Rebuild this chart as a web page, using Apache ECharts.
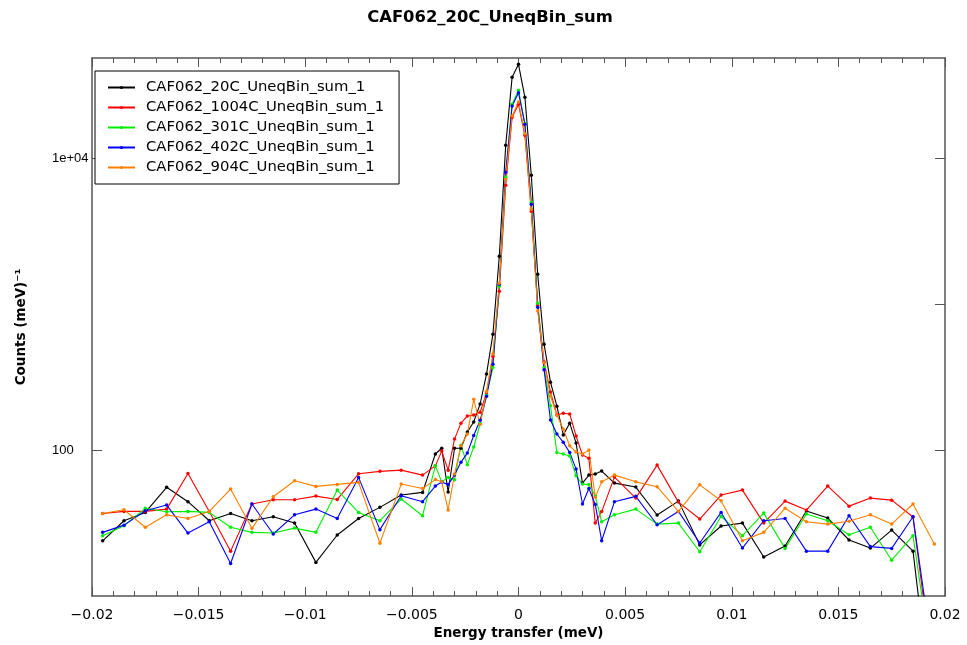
<!DOCTYPE html>
<html>
<head>
<meta charset="utf-8">
<script src="https://cdn.jsdelivr.net/npm/echarts@6/dist/echarts.min.js"></script>
<style>
html,body{margin:0;padding:0;background:#fff;}
#chart{width:967px;height:645px;}
</style>
</head>
<body>
<div id="chart"></div>
<script>
// Energy transfer (meV) bin centres
const xValues = [
  -0.0195,-0.0185,-0.0175,-0.0165,-0.0155,-0.0145,-0.0135,-0.0125,-0.0115,-0.0105,-0.0095,-0.0085,-0.0075,-0.0065,-0.0055,-0.0045,
  -0.0039,-0.0036,-0.0033,-0.0030,-0.0027,-0.0024,-0.0021,-0.0018,-0.0015,-0.0012,-0.0009,-0.0006,-0.0003,0,
  0.0003,0.0006,0.0009,0.0012,0.0015,0.0018,0.0021,0.0024,0.0027,0.0030,0.0033,0.0036,0.0039,
  0.0045,0.0055,0.0065,0.0075,0.0085,0.0095,0.0105,0.0115,0.0125,0.0135,0.0145,0.0155,0.0165,0.0175,0.0185,0.0195
];
const seriesNames = ['CAF062_20C_UneqBin_sum_1','CAF062_1004C_UneqBin_sum_1','CAF062_301C_UneqBin_sum_1','CAF062_402C_UneqBin_sum_1','CAF062_904C_UneqBin_sum_1'];
const counts20C = [
  23.9,32.8,37.4,55.6,44.3,32.8,36.8,32.8,34.9,31.6,17.0,26.2,34.0,40.5,49.2,51.3,
  94.0,103,51.6,103,103,133,156,207,332,623,2133,12270,35890,44060,
  26180,7650,1605,532,292,200,127,153,112,59.4,67.4,68.5,71.8,
  59.4,55.8,35.9,44.7,22.4,30.2,31.6,18.5,22.0,38.2,34.2,24.2,21.3,28.3,20.3,1.2
];
const counts1004C = [
  36.8,38.0,38.0,39.4,69.2,38.0,20.3,42.7,45.7,45.7,48.4,45.9,68.8,71.5,72.9,67.4,
  78.0,98.4,72.9,119,153,171,174,182,246,440,1228,6530,19100,23440,
  14380,4335,984,401,250,174,179,177,125,92.4,88.1,31.6,37.9,
  65.3,46.9,78.9,44.0,33.7,49.2,53.2,31.6,44.7,38.8,56.7,41.3,46.9,45.4,34.8,2.5
];
const counts301C = [
  25.9,30.3,39.9,37.8,38.0,37.4,29.6,27.3,27.0,29.2,27.3,53.2,37.4,32.8,46.2,35.5,
  78.0,60.6,65.0,62.6,108,79.5,105,152,238,368,1328,7410,23440,29240,
  17290,4975,1016,368,201,96.4,94.0,91.0,66.7,58.5,58.0,48.4,32.3,
  36.0,39.4,31.1,31.6,20.1,35.1,25.9,37.0,21.2,36.5,32.8,26.3,29.6,17.6,25.9,2.6
];
const counts402C = [
  27.3,30.6,38.4,42.0,27.0,32.3,16.7,42.7,26.6,36.0,39.4,34.0,65.0,28.5,48.6,44.3,
  56.7,60.4,58.0,67.4,82.4,95.4,126,160,234,388,1371,8020,22810,28180,
  17100,4840,953,355,161,129,113,96.4,74.1,42.7,54.5,42.4,23.9,
  44.3,48.2,30.8,38.0,23.1,37.4,21.3,32.8,34.0,20.3,20.3,35.5,21.8,21.2,34.9,3.2
];
const counts904C = [
  36.8,39.0,29.6,36.0,34.0,38.0,54.1,29.1,47.9,61.6,56.4,58.2,60.1,23.0,58.5,54.6,
  62.8,60.6,38.8,68.5,107,129,223,150,252,455,1393,7180,19500,24320,
  14760,4475,900,397,235,174,139,107,96.9,94.0,100,47.6,60.6,
  67.4,60.6,56.1,38.0,57.8,45.0,23.9,27.3,39.9,32.3,31.1,32.5,36.0,31.1,42.7,22.7
];
const seriesValues = [counts20C, counts1004C, counts301C, counts402C, counts904C];
const seriesColors = ['#000000','#ff0000','#00ee00','#0000ff','#ff8000'];
const yTickLabels = {100: '100', 10000: '1e+04'};
const xTickLabels = [-0.02,-0.015,-0.01,-0.005,0,0.005,0.01,0.015,0.02];

const chart = echarts.init(document.getElementById('chart'), null, {renderer: 'canvas'});
const FONT = 'DejaVu Sans';
const frameColor = '#555';
const xFmt = v => { const r = parseFloat(Number(v).toFixed(4)); return String(r).replace('-', '\u2212'); };

const option = {
  backgroundColor: '#fff',
  animation: false,
  title: {
    text: 'CAF062_20C_UneqBin_sum',
    left: 485, top: 5, textAlign: 'center',
    textStyle: {fontFamily: FONT, fontSize: 16.4, fontWeight: 'bold', color: '#000'}
  },
  legend: {
    orient: 'vertical',
    left: 95, top: 71,
    padding: [9, 15, 9, 12],
    itemGap: 5,
    itemWidth: 27, itemHeight: 4,
    backgroundColor: '#fff',
    borderColor: '#000', borderWidth: 1,
    textStyle: {fontFamily: FONT, fontSize: 14.8, color: '#000', padding: [0,0,0,6]},
    data: seriesNames
  },
  grid: {left: 92, right: 22, top: 58, bottom: 49, containLabel: false, outerBoundsMode: 'none'},
  xAxis: [
    {
      type: 'value', min: -0.02, max: 0.02, interval: 0.005,
      position: 'bottom',
      name: 'Energy transfer (meV)', nameLocation: 'middle', nameGap: 29,
      nameTextStyle: {fontFamily: FONT, fontSize: 13.5, fontWeight: 'bold', color: '#000'},
      axisLine: {show: true, onZero: false, lineStyle: {color: frameColor, width: 1.5}},
      axisTick: {show: true, inside: true, length: 9, lineStyle: {color: frameColor}},
      minorTick: {show: true, splitNumber: 5, length: 5, lineStyle: {color: frameColor}},
      axisLabel: {fontFamily: FONT, fontSize: 14, color: '#000', margin: 12,
        customValues: xTickLabels, formatter: xFmt},
      splitLine: {show: false}
    },
    {
      type: 'value', min: -0.02, max: 0.02, interval: 0.005,
      position: 'top',
      axisLine: {show: true, onZero: false, lineStyle: {color: frameColor, width: 1.5}},
      axisTick: {show: true, inside: true, length: 9, lineStyle: {color: frameColor}},
      minorTick: {show: true, splitNumber: 5, length: 5, lineStyle: {color: frameColor}},
      axisLabel: {show: false},
      splitLine: {show: false}
    }
  ],
  yAxis: [
    {
      type: 'log', logBase: 10, min: 10, max: 48700,
      position: 'left',
      name: 'Counts (meV)\u207B\u00B9', nameLocation: 'middle', nameGap: 64,
      nameTextStyle: {fontFamily: FONT, fontSize: 13.5, fontWeight: 'bold', color: '#000'},
      axisLine: {show: true, onZero: false, lineStyle: {color: frameColor, width: 1.5}},
      axisTick: {show: true, inside: true, length: 10, customValues: [100, 10000], lineStyle: {color: frameColor}},
      axisLabel: {fontFamily: 'Liberation Sans', fontSize: 13, color: '#000', align: 'left', margin: 40,
        customValues: [100, 10000], formatter: v => yTickLabels[Math.round(v)] || ''},
      splitLine: {show: false}
    },
    {
      type: 'log', logBase: 10, min: 10, max: 48700,
      position: 'right',
      axisLine: {show: true, onZero: false, lineStyle: {color: frameColor, width: 1.5}},
      axisTick: {show: true, inside: true, length: 10, customValues: [100, 1000, 10000], lineStyle: {color: frameColor}},
      axisLabel: {show: false},
      splitLine: {show: false}
    }
  ],
  series: seriesNames.map((name, k) => ({
    name: name,
    type: 'line',
    xAxisIndex: 0, yAxisIndex: 0,
    data: xValues.map((x, i) => [x, seriesValues[k][i]]),
    symbol: 'circle', symbolSize: 3.5,
    showSymbol: true,
    clip: true,
    lineStyle: {color: seriesColors[k], width: 1.1},
    itemStyle: {color: seriesColors[k]},
    emphasis: {disabled: true}
  }))
};
chart.setOption(option);
</script>
</body>
</html>
